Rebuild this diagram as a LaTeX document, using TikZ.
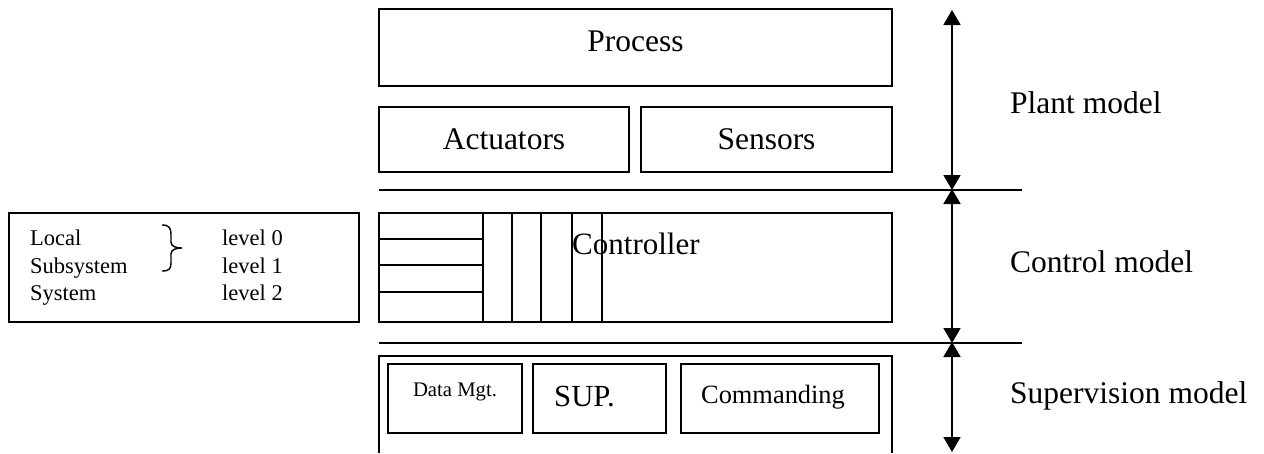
\documentclass[tikz,border=0pt]{standalone}
\usepackage{fontspec}
\setmainfont{Liberation Serif}
\usetikzlibrary{arrows.meta}
\begin{document}
\begin{tikzpicture}[x=1pt,y=-1pt,
  box/.style={draw,line width=1.8pt,inner sep=0pt,outer sep=0pt,anchor=north west},
  big/.style={font=\fontsize{31.5}{36}\selectfont,inner sep=0pt},
  small/.style={font=\fontsize{22.5}{26}\selectfont,inner sep=0pt,anchor=base west},
  dimarrow/.style={line width=1.8pt,{Triangle[width=17pt,length=15pt]}-{Triangle[width=17pt,length=15pt]}},
  sep/.style={line width=1.8pt}]
\useasboundingbox (0,0) rectangle (1264,453);

% Plant model
\node[box,minimum width=513pt,minimum height=77pt] (process) at (379,9) {};
\node[big,anchor=base] (processtxt) at (635.5,51) {Process};
\node[box,minimum width=250pt,minimum height=65pt,big] (act) at (379,107) {Actuators};
\node[box,minimum width=251pt,minimum height=65pt,big] (sens) at (641,107) {Sensors};

% separators
\coordinate (sepAl) at (379,190);
\coordinate (sepAr) at (1022,190);
\coordinate (sepBl) at (379,343);
\coordinate (sepBr) at (1022,343);
\draw[sep] (sepAl) -- (sepAr);
\draw[sep] (sepBl) -- (sepBr);

% Controller
\node[box,minimum width=513pt,minimum height=109pt] (ctrl) at (379,213) {};
\draw[line width=1.6pt] (379,239) -- (483,239) (379,265) -- (483,265) (379,292) -- (483,292);
\foreach \xx in {483,512,541,572,602} \draw[line width=1.6pt] (\xx,213) -- (\xx,322);
\node[big,anchor=base west,font=\fontsize{31}{36}\selectfont] (ctrltxt) at (572,254) {Controller};

% Supervision
\draw[line width=1.8pt] (379,453) -- (379,356) -- (892,356) -- (892,453);
\node[box,minimum width=134pt,minimum height=69pt] (data) at (388,364) {};
\node[font=\fontsize{20.7}{24}\selectfont,inner sep=0pt,anchor=base] (datatxt) at (455,396) {Data Mgt.};
\node[box,minimum width=133pt,minimum height=69pt] (sup) at (533,364) {};
\node[font=\fontsize{30.7}{36}\selectfont,inner sep=0pt,anchor=base west] (suptxt) at (554,406) {SUP.};
\node[box,minimum width=198pt,minimum height=69pt] (cmd) at (681,364) {};
\node[font=\fontsize{26.4}{30}\selectfont,inner sep=0pt,anchor=base] (cmdtxt) at (773,403) {Commanding};

% Left legend box
\node[box,minimum width=350pt,minimum height=109pt] (legend) at (9,213) {};
\node[small] (l1) at (30,245) {Local};
\node[small] (l2) at (30,273) {Subsystem};
\node[small] (l3) at (30,300) {System};
\node[small] (v1) at (222,245) {level 0};
\node[small] (v2) at (222,273) {level 1};
\node[small] (v3) at (222,300) {level 2};
\draw[line width=1.4pt] (162,225) .. controls (169,225) and (171,228) .. (171,234)
  -- (171,242) .. controls (171,246) and (175,248) .. (182,248)
  .. controls (175,248) and (171,250) .. (171,254)
  -- (171,263) .. controls (171,269) and (169,271) .. (162,271);

% dimension arrows
\coordinate (a1) at (952,10);
\coordinate (a2) at (952,190);
\coordinate (a3) at (952,343);
\coordinate (a4) at (952,452);
\draw[dimarrow] (a1) -- (a2);
\draw[dimarrow] ([yshift=1pt]a2) -- (a3);
\draw[dimarrow] ([yshift=1pt]a3) -- (a4);

\node[big,anchor=base west] (plant) at (1010,113) {Plant model};
\node[big,anchor=base west] (control) at (1010,272) {Control model};
\node[big,anchor=base west] (superv) at (1010,403) {Supervision model};
\end{tikzpicture}
\end{document}
